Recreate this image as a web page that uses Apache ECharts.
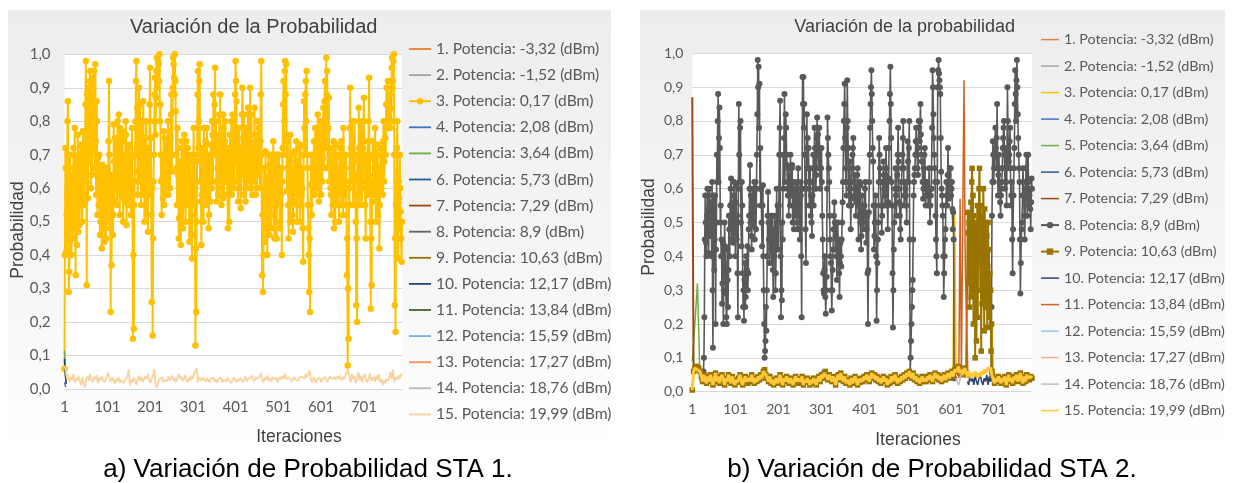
<!DOCTYPE html>
<html>
<head>
<meta charset="utf-8">
<script src="https://cdn.jsdelivr.net/npm/echarts@6/dist/echarts.min.js"></script>
<style>
  html, body { margin: 0; padding: 0; background: #ffffff; }
  #wrap { position: relative; width: 1233px; height: 483px; }
  #chartA { position: absolute; left: 0; top: 0; width: 616px; height: 483px; }
  #chartB { position: absolute; left: 616px; top: 0; width: 617px; height: 483px; }
</style>
</head>
<body>
<div id="wrap"><div id="chartA"></div><div id="chartB"></div></div>
<script>
// ---- Series names (legend) ----
const seriesNames = [
  '1. Potencia: -3,32 (dBm)', '2. Potencia: -1,52 (dBm)', '3. Potencia: 0,17 (dBm)',
  '4. Potencia: 2,08 (dBm)', '5. Potencia: 3,64 (dBm)', '6. Potencia: 5,73 (dBm)',
  '7. Potencia: 7,29 (dBm)', '8. Potencia: 8,9 (dBm)', '9. Potencia: 10,63 (dBm)',
  '10. Potencia: 12,17 (dBm)', '11. Potencia: 13,84 (dBm)', '12. Potencia: 15,59 (dBm)',
  '13. Potencia: 17,27 (dBm)', '14. Potencia: 18,76 (dBm)', '15. Potencia: 19,99 (dBm)'
];

// The high-probability traces are stored as odd iterations (1, 3, 5, ...) and
// even iterations (2, 4, 6, ...); the low traces along the bottom every 3 iterations.
const BAND_STEP = 3;
const LAST_ITERATION = 790;

// ---- STA 1 ----
// 3. Potencia 0,17 dBm, odd iterations
const sta1Pot3Odd = [
  0.06, 0.72, 0.41, 0.58, 0.86, 0.29, 0.44, 0.62, 0.40, 0.55,
  0.48, 0.66, 0.78, 0.34, 0.52, 0.61, 0.47, 0.70, 0.55, 0.64,
  0.73, 0.58, 0.69, 0.62, 0.66, 0.98, 0.31, 0.75, 0.90, 0.68,
  0.95, 0.60, 0.84, 0.93, 0.72, 0.84, 0.97, 0.58, 0.80, 0.69,
  0.55, 0.64, 0.50, 0.66, 0.48, 0.60, 0.62, 0.44, 0.57, 0.52,
  0.66, 0.58, 0.92, 0.63, 0.23, 0.37, 0.64, 0.52, 0.68, 0.75,
  0.60, 0.68, 0.80, 0.72, 0.62, 0.78, 0.66, 0.63, 0.74, 0.57,
  0.70, 0.66, 0.76, 0.60, 0.72, 0.64, 0.57, 0.70, 0.62, 0.78,
  0.15, 0.18, 0.62, 0.80, 0.98, 0.84, 0.65, 0.90, 0.78, 0.69,
  0.80, 0.72, 0.86, 0.63, 0.75, 0.72, 0.52, 0.68, 0.66, 0.58,
  0.96, 0.75, 0.26, 0.16, 0.62, 0.80, 0.93, 0.87, 0.99, 0.95,
  0.97, 1.00, 0.85, 0.62, 0.70, 0.57, 0.77, 0.64, 0.69, 0.73,
  0.62, 0.80, 0.66, 0.70, 0.75, 0.88, 0.70, 0.99, 0.93, 1.00,
  0.83, 0.66, 0.78, 0.72, 0.51, 0.62, 0.43, 0.74, 0.60, 0.68,
  0.76, 0.58, 0.66, 0.55, 0.72, 0.68, 0.44, 0.60, 0.52, 0.39,
  0.62, 0.78, 0.70, 0.13, 0.23, 0.68, 0.95, 0.80, 0.97, 0.70,
  0.43, 0.66, 0.60, 0.78, 0.62, 0.74, 0.65, 0.57, 0.70, 0.52,
  0.64, 0.73, 0.60, 0.76, 0.88, 0.72, 0.96, 0.80, 0.56, 0.66,
  0.70, 0.82, 0.88, 0.62, 0.74, 0.57, 0.78, 0.69, 0.80, 0.62,
  0.66, 0.48, 0.72, 0.60, 0.64, 0.80, 0.73, 0.62, 0.68, 0.76,
  0.98, 0.86, 0.70, 0.56, 0.78, 0.66, 0.54, 0.70, 0.90, 0.75,
  0.82, 0.64, 0.62, 0.73, 0.66, 0.78, 0.62, 0.90, 0.72, 0.66,
  0.58, 0.72, 0.84, 0.70, 0.64, 0.60, 0.80, 0.68, 0.66, 0.74,
  0.98, 0.34, 0.29, 0.56, 0.44, 0.71, 0.52, 0.40, 0.62, 0.55,
  0.67, 0.58, 0.48, 0.66, 0.74, 0.52, 0.63, 0.56, 0.45, 0.70,
  0.56, 0.64, 0.62, 0.58, 0.40, 0.72, 0.92, 0.80, 0.98, 0.97,
  0.59, 0.74, 0.45, 0.62, 0.76, 0.55, 0.62, 0.47, 0.66, 0.71,
  0.60, 0.74, 0.55, 0.68, 0.66, 0.50, 0.73, 0.58, 0.60, 0.38,
  0.86, 0.70, 0.92, 0.95, 0.66, 0.48, 0.29, 0.23, 0.61, 0.52,
  0.70, 0.58, 0.66, 0.78, 0.60, 0.66, 0.82, 0.70, 0.62, 0.74,
  0.58, 0.80, 0.69, 0.76, 0.86, 0.72, 0.99, 0.95, 0.72, 0.87,
  0.66, 0.60, 0.52, 0.70, 0.66, 0.48, 0.62, 0.73, 0.57, 0.66,
  0.62, 0.50, 0.72, 0.69, 0.55, 0.64, 0.78, 0.58, 0.62, 0.70,
  0.34, 0.07, 0.15, 0.55, 0.90, 0.72, 0.80, 0.62, 0.70, 0.80,
  0.58, 0.25, 0.20, 0.64, 0.84, 0.55, 0.66, 0.76, 0.62, 0.72,
  0.87, 0.60, 0.45, 0.70, 0.58, 0.66, 0.93, 0.70, 0.24, 0.31,
  0.56, 0.69, 0.64, 0.78, 0.50, 0.66, 0.73, 0.62, 0.42, 0.60,
  0.66, 0.72, 0.58, 0.80, 0.68, 0.75, 0.85, 0.80, 0.92, 0.78,
  0.88, 0.84, 0.80, 0.99, 0.92, 1.00, 0.25, 0.17, 0.62, 0.80,
  0.39, 0.57, 0.70, 0.53, 0.38
];
// 3. Potencia 0,17 dBm, even iterations
const sta1Pot3Even = [
  0.40, 0.66, 0.52, 0.80, 0.47, 0.35, 0.70, 0.51, 0.64, 0.45,
  0.72, 0.58, 0.50, 0.69, 0.43, 0.76, 0.60, 0.49, 0.73, 0.56,
  0.50, 0.77, 0.55, 0.71, 0.85, 0.62, 0.88, 0.57, 0.79, 0.92,
  0.70, 0.91, 0.64, 0.78, 0.95, 0.66, 0.74, 0.86, 0.52, 0.61,
  0.70, 0.46, 0.59, 0.42, 0.67, 0.53, 0.48, 0.65, 0.45, 0.60,
  0.50, 0.74, 0.70, 0.48, 0.55, 0.61, 0.46, 0.79, 0.56, 0.64,
  0.74, 0.55, 0.66, 0.82, 0.52, 0.69, 0.58, 0.77, 0.50, 0.65,
  0.56, 0.80, 0.49, 0.68, 0.55, 0.73, 0.60, 0.52, 0.69, 0.58,
  0.40, 0.55, 0.70, 0.92, 0.72, 0.58, 0.80, 0.62, 0.85, 0.55,
  0.66, 0.58, 0.74, 0.50, 0.62, 0.80, 0.58, 0.47, 0.72, 0.85,
  0.70, 0.52, 0.60, 0.45, 0.70, 0.88, 0.76, 0.95, 0.90, 0.98,
  0.92, 0.80, 0.70, 0.52, 0.63, 0.68, 0.55, 0.75, 0.58, 0.66,
  0.70, 0.58, 0.77, 0.60, 0.82, 0.65, 0.90, 0.97, 0.88, 0.92,
  0.70, 0.55, 0.64, 0.45, 0.68, 0.52, 0.58, 0.66, 0.48, 0.72,
  0.64, 0.50, 0.74, 0.60, 0.56, 0.62, 0.50, 0.70, 0.46, 0.55,
  0.68, 0.55, 0.60, 0.42, 0.50, 0.88, 0.72, 0.92, 0.62, 0.56,
  0.58, 0.72, 0.50, 0.66, 0.70, 0.55, 0.78, 0.62, 0.48, 0.68,
  0.56, 0.66, 0.80, 0.62, 0.70, 0.85, 0.74, 0.62, 0.74, 0.58,
  0.60, 0.76, 0.70, 0.55, 0.66, 0.82, 0.58, 0.74, 0.66, 0.72,
  0.58, 0.62, 0.50, 0.76, 0.70, 0.58, 0.82, 0.72, 0.60, 0.88,
  0.92, 0.62, 0.78, 0.66, 0.60, 0.72, 0.64, 0.82, 0.66, 0.58,
  0.70, 0.56, 0.78, 0.60, 0.84, 0.70, 0.74, 0.60, 0.82, 0.58,
  0.66, 0.62, 0.76, 0.58, 0.74, 0.70, 0.64, 0.78, 0.60, 0.88,
  0.70, 0.52, 0.40, 0.66, 0.58, 0.48, 0.63, 0.56, 0.70, 0.46,
  0.52, 0.70, 0.60, 0.55, 0.62, 0.45, 0.70, 0.50, 0.62, 0.58,
  0.70, 0.48, 0.55, 0.66, 0.62, 0.85, 0.70, 0.95, 0.88, 0.76,
  0.66, 0.55, 0.68, 0.50, 0.64, 0.70, 0.52, 0.60, 0.56, 0.64,
  0.68, 0.50, 0.62, 0.58, 0.72, 0.62, 0.55, 0.66, 0.48, 0.70,
  0.78, 0.88, 0.80, 0.70, 0.55, 0.40, 0.45, 0.55, 0.70, 0.66,
  0.62, 0.74, 0.58, 0.70, 0.78, 0.60, 0.72, 0.56, 0.80, 0.66,
  0.70, 0.62, 0.84, 0.66, 0.92, 0.80, 0.88, 0.66, 0.78, 0.62,
  0.72, 0.58, 0.64, 0.55, 0.74, 0.60, 0.50, 0.66, 0.70, 0.55,
  0.58, 0.66, 0.60, 0.74, 0.68, 0.52, 0.70, 0.66, 0.55, 0.60,
  0.45, 0.30, 0.60, 0.78, 0.62, 0.66, 0.74, 0.55, 0.68, 0.62,
  0.50, 0.45, 0.70, 0.58, 0.72, 0.62, 0.80, 0.55, 0.66, 0.80,
  0.70, 0.55, 0.62, 0.66, 0.74, 0.80, 0.60, 0.50, 0.45, 0.62,
  0.74, 0.58, 0.70, 0.62, 0.58, 0.70, 0.52, 0.66, 0.55, 0.72,
  0.60, 0.66, 0.74, 0.62, 0.80, 0.70, 0.90, 0.85, 0.82, 0.86,
  0.78, 0.92, 0.96, 0.90, 0.98, 0.70, 0.45, 0.55, 0.72, 0.58,
  0.62, 0.48, 0.60, 0.45, 0.50
];
// 15. Potencia 19,99 dBm (low trace along the bottom)
const sta1Pot15 = [
  0.070, 0.055, 0.030, 0.042, 0.020, 0.035, 0.028, 0.045, 0.018, 0.032, 0.025, 0.040,
  0.022, 0.012, 0.035, 0.015, 0.005, 0.030, 0.038, 0.025, 0.045, 0.030, 0.020, 0.036,
  0.028, 0.042, 0.018, 0.033, 0.024, 0.038, 0.030, 0.020, 0.026, 0.040, 0.048, 0.032,
  0.022, 0.035, 0.028, 0.015, 0.030, 0.022, 0.036, 0.020, 0.027, 0.032, 0.018, 0.025,
  0.030, 0.038, 0.058, 0.010, 0.028, 0.020, 0.034, 0.026, 0.012, 0.030, 0.040, 0.024,
  0.035, 0.020, 0.028, 0.038, 0.030, 0.045, 0.025, 0.018, 0.032, 0.040, 0.060, 0.012,
  0.004, 0.020, 0.030, 0.025, 0.035, 0.020, 0.028, 0.032, 0.022, 0.038, 0.026, 0.030,
  0.040, 0.025, 0.032, 0.020, 0.035, 0.045, 0.030, 0.038, 0.024, 0.030, 0.042, 0.028,
  0.020, 0.035, 0.025, 0.040, 0.030, 0.045, 0.050, 0.062, 0.020, 0.035, 0.030, 0.024,
  0.036, 0.028, 0.022, 0.033, 0.026, 0.020, 0.030, 0.025, 0.035, 0.022, 0.028, 0.018,
  0.030, 0.026, 0.035, 0.020, 0.028, 0.032, 0.022, 0.036, 0.025, 0.030, 0.018, 0.026,
  0.035, 0.028, 0.020, 0.030, 0.024, 0.034, 0.026, 0.020, 0.030, 0.038, 0.022, 0.030,
  0.026, 0.034, 0.040, 0.028, 0.022, 0.036, 0.030, 0.025, 0.035, 0.048, 0.030, 0.020,
  0.034, 0.028, 0.040, 0.025, 0.032, 0.022, 0.036, 0.030, 0.026, 0.034, 0.020, 0.030,
  0.036, 0.028, 0.040, 0.032, 0.045, 0.030, 0.025, 0.035, 0.028, 0.022, 0.030, 0.036,
  0.028, 0.032, 0.025, 0.034, 0.030, 0.038, 0.042, 0.030, 0.045, 0.035, 0.040, 0.055,
  0.030, 0.020, 0.035, 0.028, 0.018, 0.030, 0.025, 0.034, 0.020, 0.030, 0.026, 0.035,
  0.028, 0.022, 0.032, 0.038, 0.030, 0.026, 0.034, 0.028, 0.036, 0.030, 0.040, 0.032,
  0.026, 0.036, 0.030, 0.042, 0.050, 0.060, 0.035, 0.020, 0.045, 0.030, 0.038, 0.018,
  0.030, 0.050, 0.025, 0.040, 0.020, 0.035, 0.044, 0.028, 0.020, 0.032, 0.046, 0.025,
  0.030, 0.035, 0.022, 0.040, 0.028, 0.045, 0.020, 0.030, 0.012, 0.025, 0.018, 0.030,
  0.024, 0.035, 0.050, 0.030, 0.058, 0.020, 0.035, 0.028, 0.040, 0.030, 0.045, 0.038
];
// Short traces that only show at the first iterations (every 2 iterations)
const sta1Pot5 = [0.115, 0.06, 0.02];
const sta1Pot10 = [0.09, 0.04, 0.015];
const sta1Pot4 = [0.02, 0.005];

// ---- STA 2 ----
// 8. Potencia 8,9 dBm, odd iterations (null where the trace sits under the bottom band)
const sta2Pot8Odd = [
  null, null, null, null, null, null, null, null, null, null,
  null, null, null, 0.06, 0.22, 0.58, 0.44, 0.52, 0.47, 0.41,
  0.60, 0.50, 0.52, 0.62, 0.13, 0.58, 0.45, 0.20, 0.50, 0.62,
  0.88, 0.75, 0.72, 0.55, 0.45, 0.32, 0.20, 0.38, 0.43, 0.29,
  0.20, 0.33, 0.36, 0.48, 0.55, 0.63, 0.45, 0.51, 0.58, 0.47,
  0.40, 0.61, 0.52, 0.22, 0.85, 0.62, 0.80, 0.43, 0.55, 0.25,
  0.21, 0.38, 0.28, 0.30, 0.43, 0.35, 0.52, 0.67, 0.58, 0.42,
  0.60, 0.49, 0.62, 0.55, 0.48, 0.70, 0.98, 0.96, 0.91, 0.72,
  0.60, 0.43, 0.61, 0.30, 0.10, 0.15, 0.18, 0.40, 0.59, 0.45,
  0.45, 0.52, 0.38, 0.52, 0.28, 0.40, 0.47, 0.35, 0.60, 0.55,
  0.42, 0.70, 0.86, 0.22, 0.27, 0.45, 0.60, 0.88, 0.70, 0.78,
  0.67, 0.58, 0.52, 0.64, 0.70, 0.58, 0.67, 0.55, 0.48, 0.60,
  0.60, 0.55, 0.48, 0.66, 0.58, 0.45, 0.58, 0.22, 0.93, 0.93,
  0.85, 0.60, 0.38, 0.82, 0.75, 0.72, 0.55, 0.66, 0.58, 0.46,
  0.62, 0.55, 0.78, 0.70, 0.64, 0.81, 0.76, 0.70, 0.66, 0.72,
  0.72, 0.52, 0.35, 0.29, 0.40, 0.23, 0.34, 0.81, 0.70, 0.62,
  0.45, 0.38, 0.24, 0.36, 0.48, 0.56, 0.42, 0.50, 0.33, 0.50,
  0.45, 0.28, 0.44, 0.37, 0.50, 0.62, 0.80, 0.91, 0.66, 0.58,
  0.92, 0.72, 0.55, 0.68, 0.48, 0.62, 0.70, 0.75, 0.57, 0.64,
  0.52, 0.60, 0.66, 0.45, 0.58, 0.61, 0.42, 0.50, 0.55, 0.48,
  0.55, 0.62, 0.44, 0.52, 0.20, 0.53, 0.70, 0.85, 0.95, 0.80,
  0.68, 0.42, 0.50, 0.58, 0.21, 0.38, 0.50, 0.75, 0.66, 0.62,
  0.47, 0.55, 0.68, 0.60, 0.55, 0.72, 0.62, 0.48, 0.63, 0.80,
  0.96, 0.75, 0.55, 0.19, 0.42, 0.55, 0.66, 0.52, 0.64, 0.78,
  0.60, 0.52, 0.45, 0.62, 0.70, 0.80, 0.55, 0.62, 0.58, 0.50,
  0.74, 0.62, 0.80, 0.05, 0.15, 0.25, 0.33, 0.58, 0.64, 0.70,
  0.78, 0.70, 0.64, 0.80, 0.74, 0.85, 0.70, 0.68, 0.57, 0.66,
  0.72, 0.55, 0.62, 0.60, 0.55, 0.66, 0.50, 0.58, 0.60, 0.95,
  0.82, 0.70, 0.62, 0.45, 0.35, 0.90, 0.98, 0.92, 0.88, 0.65,
  0.58, 0.52, 0.28, 0.40, 0.48, 0.62, 0.55, 0.72, 0.57, 0.66,
  0.66, 0.60, 0.54, 0.53, 0.04, null, null, null, null, null,
  null, null, null, null, null, null, null, null, null, null,
  null, null, null, null, null, null, null, null, null, null,
  null, null, null, null, null, null, null, null, null, null,
  null, null, null, null, null, null, null, 0.04, 0.52, 0.74,
  0.62, 0.70, 0.78, 0.66, 0.85, 0.58, 0.70, 0.62, 0.52, 0.60,
  0.66, 0.75, 0.80, 0.60, 0.72, 0.55, 0.90, 0.66, 0.70, 0.78,
  0.55, 0.62, 0.35, 0.58, 0.72, 0.95, 0.80, 0.98, 0.82, 0.70,
  0.62, 0.29, 0.45, 0.50, 0.66, 0.58, 0.45, 0.60, 0.70, 0.52,
  0.70, 0.55, 0.60, 0.48, 0.63
];
// 8. Potencia 8,9 dBm, even iterations
const sta2Pot8Even = [
  null, null, null, null, null, null, null, null, null, null,
  null, null, null, 0.10, 0.45, 0.50, 0.40, 0.60, 0.52, 0.58,
  0.46, 0.56, 0.40, 0.30, 0.48, 0.36, 0.58, 0.42, 0.70, 0.80,
  0.62, 0.84, 0.50, 0.40, 0.26, 0.44, 0.30, 0.50, 0.36, 0.22,
  0.42, 0.25, 0.52, 0.40, 0.60, 0.52, 0.56, 0.44, 0.62, 0.52,
  0.56, 0.45, 0.35, 0.60, 0.70, 0.78, 0.50, 0.62, 0.35, 0.30,
  0.33, 0.25, 0.40, 0.36, 0.30, 0.48, 0.60, 0.50, 0.46, 0.55,
  0.52, 0.58, 0.45, 0.62, 0.60, 0.82, 0.90, 0.78, 0.60, 0.55,
  0.50, 0.55, 0.40, 0.20, 0.12, 0.25, 0.30, 0.52, 0.50, 0.38,
  0.50, 0.42, 0.48, 0.36, 0.45, 0.52, 0.30, 0.48, 0.42, 0.50,
  0.55, 0.78, 0.40, 0.30, 0.50, 0.70, 0.75, 0.62, 0.82, 0.70,
  0.60, 0.66, 0.58, 0.55, 0.62, 0.66, 0.50, 0.62, 0.55, 0.52,
  0.62, 0.50, 0.60, 0.52, 0.48, 0.62, 0.40, 0.60, 0.85, 0.78,
  0.70, 0.48, 0.62, 0.72, 0.66, 0.60, 0.62, 0.52, 0.50, 0.58,
  0.70, 0.66, 0.72, 0.60, 0.75, 0.70, 0.66, 0.78, 0.60, 0.66,
  0.62, 0.45, 0.30, 0.36, 0.28, 0.30, 0.60, 0.75, 0.66, 0.52,
  0.40, 0.30, 0.30, 0.42, 0.52, 0.50, 0.46, 0.40, 0.45, 0.40,
  0.35, 0.38, 0.40, 0.45, 0.56, 0.72, 0.85, 0.75, 0.62, 0.78,
  0.80, 0.62, 0.60, 0.58, 0.55, 0.66, 0.72, 0.62, 0.60, 0.58,
  0.56, 0.64, 0.55, 0.52, 0.62, 0.50, 0.46, 0.58, 0.52, 0.52,
  0.60, 0.50, 0.48, 0.35, 0.36, 0.62, 0.78, 0.90, 0.88, 0.72,
  0.55, 0.46, 0.55, 0.40, 0.30, 0.45, 0.62, 0.70, 0.62, 0.55,
  0.52, 0.62, 0.64, 0.58, 0.64, 0.66, 0.55, 0.56, 0.72, 0.88,
  0.85, 0.62, 0.35, 0.30, 0.50, 0.60, 0.58, 0.60, 0.70, 0.68,
  0.56, 0.48, 0.55, 0.66, 0.75, 0.66, 0.58, 0.60, 0.55, 0.62,
  0.68, 0.72, 0.45, 0.10, 0.20, 0.30, 0.45, 0.62, 0.66, 0.74,
  0.74, 0.66, 0.72, 0.78, 0.80, 0.76, 0.68, 0.62, 0.60, 0.70,
  0.62, 0.58, 0.62, 0.58, 0.60, 0.58, 0.55, 0.60, 0.78, 0.90,
  0.75, 0.66, 0.52, 0.40, 0.62, 0.95, 0.94, 0.90, 0.75, 0.60,
  0.55, 0.40, 0.35, 0.45, 0.55, 0.58, 0.64, 0.64, 0.62, 0.62,
  0.58, 0.62, 0.48, 0.45, null, null, null, null, null, null,
  null, null, null, null, null, null, null, null, null, null,
  null, null, null, null, null, null, null, null, null, null,
  null, null, null, null, null, null, null, null, null, null,
  null, null, null, null, null, null, null, 0.25, 0.62, 0.70,
  0.66, 0.74, 0.72, 0.75, 0.70, 0.64, 0.66, 0.56, 0.58, 0.62,
  0.72, 0.78, 0.70, 0.66, 0.62, 0.72, 0.80, 0.68, 0.74, 0.66,
  0.58, 0.45, 0.48, 0.66, 0.85, 0.88, 0.92, 0.90, 0.75, 0.66,
  0.45, 0.38, 0.48, 0.58, 0.62, 0.52, 0.52, 0.66, 0.62, 0.60,
  0.62, 0.58, 0.54, 0.56, 0.60
];
// 15. Potencia 19,99 dBm (bottom band; 9. Potencia follows it outside its burst)
const sta2Pot15 = [
  0.005, 0.060, 0.070, 0.075, 0.065, 0.070, 0.060, 0.045, 0.030, 0.050, 0.035, 0.025,
  0.045, 0.030, 0.050, 0.035, 0.020, 0.040, 0.055, 0.030, 0.045, 0.025, 0.040, 0.050,
  0.035, 0.020, 0.040, 0.030, 0.050, 0.038, 0.025, 0.045, 0.030, 0.020, 0.035, 0.028,
  0.040, 0.050, 0.030, 0.020, 0.035, 0.045, 0.030, 0.025, 0.040, 0.030, 0.050, 0.035,
  0.025, 0.040, 0.030, 0.045, 0.035, 0.050, 0.040, 0.060, 0.065, 0.050, 0.040, 0.030,
  0.045, 0.025, 0.035, 0.020, 0.030, 0.040, 0.025, 0.035, 0.050, 0.030, 0.020, 0.040,
  0.030, 0.045, 0.035, 0.025, 0.040, 0.030, 0.020, 0.035, 0.045, 0.030, 0.025, 0.038,
  0.030, 0.045, 0.020, 0.035, 0.028, 0.040, 0.030, 0.020, 0.035, 0.025, 0.040, 0.030,
  0.020, 0.035, 0.045, 0.030, 0.050, 0.040, 0.055, 0.060, 0.045, 0.035, 0.050, 0.040,
  0.030, 0.045, 0.035, 0.020, 0.040, 0.050, 0.035, 0.055, 0.040, 0.030, 0.045, 0.025,
  0.035, 0.030, 0.020, 0.040, 0.025, 0.035, 0.045, 0.030, 0.020, 0.038, 0.028, 0.040,
  0.030, 0.045, 0.035, 0.050, 0.040, 0.030, 0.045, 0.055, 0.040, 0.050, 0.035, 0.045,
  0.030, 0.040, 0.025, 0.035, 0.045, 0.030, 0.040, 0.020, 0.035, 0.025, 0.045, 0.030,
  0.040, 0.050, 0.035, 0.025, 0.040, 0.030, 0.045, 0.035, 0.050, 0.040, 0.055, 0.045,
  0.060, 0.050, 0.040, 0.055, 0.035, 0.045, 0.030, 0.040, 0.025, 0.035, 0.045, 0.030,
  0.040, 0.030, 0.045, 0.035, 0.050, 0.040, 0.030, 0.045, 0.055, 0.040, 0.050, 0.035,
  0.045, 0.030, 0.040, 0.050, 0.035, 0.045, 0.055, 0.040, 0.050, 0.060, 0.045, 0.065,
  0.070, 0.060, 0.075, 0.055, 0.065, 0.050, 0.060, 0.070, 0.055, 0.045, 0.060, 0.050,
  0.040, 0.055, 0.045, 0.060, 0.050, 0.040, 0.055, 0.045, 0.060, 0.050, 0.065, 0.055,
  0.060, 0.070, 0.065, 0.070, 0.050, 0.035, 0.025, 0.040, 0.030, 0.045, 0.035, 0.025,
  0.040, 0.030, 0.045, 0.020, 0.035, 0.050, 0.030, 0.040, 0.025, 0.045, 0.035, 0.050,
  0.030, 0.040, 0.055, 0.035, 0.025, 0.045, 0.030, 0.050, 0.040, 0.035, 0.045, 0.040
];
// 9. Potencia 10,63 dBm burst, one value per iteration from iteration 640 to 700
const BURST_FIRST = 640;
const BURST_LAST = 700;
const sta2Pot9Burst = [
  0.05, 0.53, 0.47, 0.32, 0.50, 0.25, 0.52, 0.40, 0.56, 0.28, 0.62,
  0.66, 0.45, 0.58, 0.20, 0.52, 0.35, 0.48, 0.10, 0.30, 0.50,
  0.15, 0.42, 0.55, 0.22, 0.46, 0.38, 0.60, 0.66, 0.50, 0.30,
  0.55, 0.12, 0.44, 0.26, 0.52, 0.35, 0.60, 0.47, 0.18, 0.54,
  0.40, 0.25, 0.50, 0.33, 0.46, 0.19, 0.37, 0.50, 0.28, 0.42,
  0.22, 0.35, 0.19, 0.30, 0.12, 0.20, 0.06, 0.05, 0.04, 0.04
];
// Short traces of STA 2: [first iteration, iteration step, values]
const sta2Pot7 = [1, 1, [0.87, 0.59, 0.30, 0.06]];
const sta2Pot5 = [1, 6, [0.09, 0.20, 0.32, 0.03]];
const sta2Pot3 = [604, 3, [0.05, 0.06, 0.54, 0.05,
  null, null, null, null, null, null, null, null, null, null, null, null, null,
  null, null, null, null, null, null, null, null, null, null, null, null, null,
  0.05, 0.19, 0.05]];
const sta2Pot11 = [620, 3, [0.04, 0.57, 0.05, 0.05, 0.92, 0.37, 0.37, 0.05]];
const sta2Pot14 = [613, 3, [0.04, 0.03, 0.02, 0.03, 0.05]];
const sta2Pot10 = [640, 3, [0.03, 0.02, 0.05, 0.03, 0.04, 0.02, 0.05, 0.03, 0.02, 0.04,
  0.05, 0.03, 0.02, 0.04, 0.03, 0.05, 0.02, 0.04, 0.03, 0.05]];

// ---- helpers ----
// x value on the axis is (iteration - 1) so that ticks land on 1, 101, 201, ...
function trace(firstIteration, step, values) {
  return values.map((v, i) => [firstIteration - 1 + i * step, v === null ? '-' : v]);
}
// merge the odd- and even-iteration halves of a trace in iteration order
function fullTrace(oddValues, evenValues) {
  return trace(1, 2, oddValues).concat(trace(2, 2, evenValues)).sort((a, b) => a[0] - b[0]);
}

const UI_FONT = 'Lato, "Open Sans", sans-serif';
const HEAD_FONT = '"Liberation Sans", Arial, sans-serif';
const TEXT_GRAY = '#595959';
const GRID_GRAY = '#d9d9d9';
const LINE_ICON = 'path://M0,0H24V2H0Z';

function lineSeries(name, data, color, width, symbol, symbolSize) {
  return {
    type: 'line', name: name, data: data,
    symbol: symbol || 'none', symbolSize: symbolSize || 0,
    showSymbol: !!symbol, connectNulls: false,
    lineStyle: { color: color, width: width },
    itemStyle: { color: color, borderWidth: 0 },
    emphasis: { disabled: true }, silent: true, animation: false
  };
}

// later series are painted over earlier ones, markers included
function stacked(list) {
  list.forEach((s, i) => { s.z = 2 + i; });
  return list;
}

function textEl(x, y, text, font, color, rotation) {
  return {
    type: 'text', x: x, y: y, rotation: rotation || 0, z: 50, silent: true,
    style: { text: text, font: font, fill: color,
      textAlign: 'center', textVerticalAlign: 'middle', align: 'center', verticalAlign: 'middle' }
  };
}

function buildOption(L, series) {
  // plain line icon for traces drawn without markers
  const legendData = series.map(s => s.showSymbol ? { name: s.name } : { name: s.name, icon: LINE_ICON });
  return {
    animation: false,
    graphic: [
      { type: 'rect', z: -10, silent: true,
        shape: { x: L.frame[0], y: L.frame[1], width: L.frame[2], height: L.frame[3] },
        style: { fill: { type: 'linear', x: 0, y: 0, x2: 0, y2: 1,
          colorStops: [{ offset: 0, color: '#ededed' }, { offset: 0.65, color: '#f7f7f7' }, { offset: 1, color: '#ffffff' }] } } },
      textEl(L.title[0], L.title[1], L.title[2], L.title[3], '#404040'),
      textEl(L.yName[0], L.yName[1], 'Probabilidad', '17.5px ' + HEAD_FONT, '#404040', Math.PI / 2),
      textEl(L.xName[0], L.xName[1], 'Iteraciones', '17.5px ' + HEAD_FONT, '#404040'),
      textEl(L.caption[0], L.caption[1], L.caption[2], '26px ' + HEAD_FONT, '#000000')
    ],
    grid: { left: L.grid[0], top: L.grid[1], width: L.grid[2], height: L.grid[3],
      show: true, backgroundColor: '#ffffff', borderWidth: 0 },
    xAxis: {
      type: 'value', min: 0, max: LAST_ITERATION - 1, interval: 100,
      axisLine: { lineStyle: { color: GRID_GRAY, width: 1 } },
      axisTick: { show: false }, splitLine: { show: false },
      axisLabel: { formatter: v => String(v + 1), showMaxLabel: false,
        color: TEXT_GRAY, fontFamily: UI_FONT, fontSize: L.tickSize, margin: 11 }
    },
    yAxis: {
      type: 'value', min: 0, max: 1, interval: 0.1,
      axisLine: { show: false }, axisTick: { show: false },
      splitLine: { lineStyle: { color: GRID_GRAY, width: 1 } },
      axisLabel: { formatter: v => v.toFixed(1).replace('.', ','),
        color: TEXT_GRAY, fontFamily: UI_FONT, fontSize: L.tickSize, margin: L.yLabelMargin }
    },
    legend: {
      orient: 'vertical', left: L.legend[0], top: L.legend[1],
      itemWidth: L.legend[2], itemHeight: 8, itemGap: L.legend[3],
      selectedMode: false, data: legendData,
      textStyle: { fontFamily: UI_FONT, fontSize: L.legendSize, color: TEXT_GRAY, lineHeight: 18 }
    },
    series: series
  };
}

// ---- STA 1 chart ----
const seriesA = stacked([
  lineSeries(seriesNames[0], [], '#ED7D31', 1.5),
  lineSeries(seriesNames[1], [], '#A5A5A5', 1.5),
  lineSeries(seriesNames[2], fullTrace(sta1Pot3Odd, sta1Pot3Even), '#FFC000', 2, 'circle', 6.5),
  lineSeries(seriesNames[3], trace(1, 3, sta1Pot4), '#4472C4', 1.5),
  lineSeries(seriesNames[4], trace(1, 2, sta1Pot5), '#70AD47', 1.5),
  lineSeries(seriesNames[5], [], '#255E91', 1.5),
  lineSeries(seriesNames[6], [], '#9E480E', 1.5),
  lineSeries(seriesNames[7], [], '#636363', 1.5),
  lineSeries(seriesNames[8], [], '#997300', 1.5),
  lineSeries(seriesNames[9], trace(1, 2, sta1Pot10), '#264478', 1.5),
  lineSeries(seriesNames[10], [], '#43682B', 1.5),
  lineSeries(seriesNames[11], [], '#7CAFDD', 1.5),
  lineSeries(seriesNames[12], [], '#F1975A', 1.5),
  lineSeries(seriesNames[13], [], '#B7B7B7', 1.5),
  lineSeries(seriesNames[14], trace(1, BAND_STEP, sta1Pot15), '#FAD29E', 1.8)
]);
const layoutA = {
  frame: [8, 10, 603, 442],
  title: [253.7, 27, 'Variación de la Probabilidad', '20px ' + HEAD_FONT],
  yName: [18.5, 230], xName: [299, 437],
  caption: [308, 470, 'a) Variación de Probabilidad STA 1.'],
  grid: [64.5, 54.3, 337.5, 334.7],
  legend: [403, 35, 22, 8.1],
  tickSize: 15, legendSize: 15.6, yLabelMargin: 14
};

// ---- STA 2 chart ----
const bandPoints = trace(1, BAND_STEP, sta2Pot15);
const pot9Points = bandPoints
  .filter(p => p[0] < BURST_FIRST - 1 || p[0] > BURST_LAST - 1)
  .concat(trace(BURST_FIRST, 1, sta2Pot9Burst))
  .sort((a, b) => a[0] - b[0]);

const seriesB = stacked([
  lineSeries(seriesNames[0], [], '#ED7D31', 1.5),
  lineSeries(seriesNames[1], [], '#A5A5A5', 1.5),
  lineSeries(seriesNames[2], trace(...sta2Pot3), '#FFC000', 2),
  lineSeries(seriesNames[3], [], '#4472C4', 1.5),
  lineSeries(seriesNames[4], trace(...sta2Pot5), '#70AD47', 1.5),
  lineSeries(seriesNames[5], [], '#255E91', 1.5),
  lineSeries(seriesNames[6], trace(...sta2Pot7), '#9E480E', 2),
  lineSeries(seriesNames[7], fullTrace(sta2Pot8Odd, sta2Pot8Even), '#595959', 1.6, 'circle', 6),
  lineSeries(seriesNames[8], pot9Points, '#9A7400', 2, 'rect', 5.5),
  lineSeries(seriesNames[9], trace(...sta2Pot10), '#264478', 1.5),
  lineSeries(seriesNames[10], trace(...sta2Pot11), '#CF6220', 1.5),
  lineSeries(seriesNames[11], [], '#9DC3E6', 1.5),
  lineSeries(seriesNames[12], [], '#F4B183', 1.5),
  lineSeries(seriesNames[13], trace(...sta2Pot14), '#BFBFBF', 1.5),
  lineSeries(seriesNames[14], bandPoints, '#FFC83A', 3)
]);
const OFF_B = 616;
const layoutB = {
  frame: [640 - OFF_B, 10, 585, 442],
  title: [904.7 - OFF_B, 27, 'Variación de la probabilidad', '18px ' + HEAD_FONT],
  yName: [649 - OFF_B, 227], xName: [918 - OFF_B, 440],
  caption: [932 - OFF_B, 470, 'b) Variación de Probabilidad STA 2.'],
  grid: [692.3 - OFF_B, 53.3, 339.7, 338.4],
  legend: [1035 - OFF_B, 25.6, 18, 8.5],
  tickSize: 14, legendSize: 14.3, yLabelMargin: 9
};

const chartA = echarts.init(document.getElementById('chartA'), null, { renderer: 'canvas' });
chartA.setOption(buildOption(layoutA, seriesA));
const chartB = echarts.init(document.getElementById('chartB'), null, { renderer: 'canvas' });
chartB.setOption(buildOption(layoutB, seriesB));
</script>
</body>
</html>
